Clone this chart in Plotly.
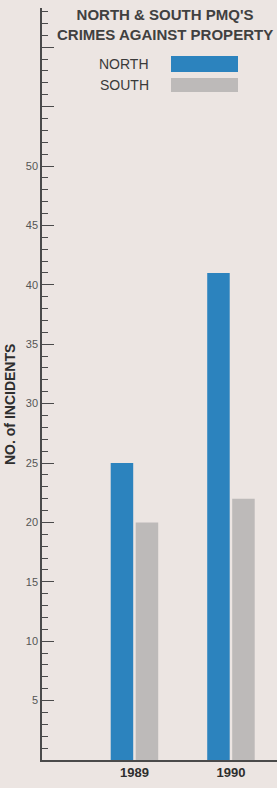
import plotly.graph_objects as go

years = ["1989", "1990"]
north = [25, 41]
south = [20, 22]
tick_vals = [5, 10, 15, 20, 25, 30, 35, 40, 45, 50, 55, 60]
tick_text = ["5", "10", "15", "20", "25", "30", "35", "40", "45", "50", "", ""]

BG = "#ece5e2"
BLUE = "#2c83be"
GREY = "#bdbab9"
INK = "#3c3c3c"
L, T, W, H = 42, 8, 235, 752

fig = go.Figure()
fig.add_trace(go.Bar(x=years, y=north, name="NORTH", marker=dict(color=BLUE, line=dict(width=0))))
fig.add_trace(go.Bar(x=years, y=south, name="SOUTH", marker=dict(color=GREY, line=dict(width=0))))

fig.update_layout(
    width=277, height=788,
    margin=dict(l=L, r=0, t=T, b=28, autoexpand=False),
    paper_bgcolor=BG, plot_bgcolor=BG,
    showlegend=False,
    barmode="group", bargap=0.482, bargroupgap=0.1,
    font=dict(family="Liberation Sans, Arial, sans-serif", color=INK),
)
fig.update_xaxes(
    type="category", range=[-0.958, 1.477], automargin=False,
    showline=True, linecolor="#4a4a4a", linewidth=1.5,
    ticks="", showgrid=False, zeroline=False,
    tickprefix="<b>", ticksuffix="</b>",
    tickfont=dict(size=13, color="#2e2e2e"),
)
fig.update_yaxes(
    range=[0, 63.3], automargin=False,
    showline=True, linecolor="#4a4a4a", linewidth=1.5,
    showgrid=False, zeroline=False,
    tickmode="array", tickvals=tick_vals, ticktext=tick_text,
    ticks="inside", ticklen=12, tickwidth=1.3, tickcolor="#4a4a4a",
    tickfont=dict(size=11, color="#555555"),
    minor=dict(tickmode="linear", tick0=0, dtick=1, ticks="inside", ticklen=6,
               tickwidth=1.2, tickcolor="#4a4a4a"),
)

def px_x(x):
    return (x - L) / W

def px_y(y):
    return 1 - (y - T) / H

# y axis title
fig.add_annotation(xref="paper", yref="paper", x=px_x(10), y=px_y(405), xanchor="center", yanchor="middle",
                   text="<b>NO. of INCIDENTS</b>", textangle=-90, showarrow=False,
                   font=dict(size=14, color="#2e2e2e"))

# title
fig.add_annotation(xref="paper", yref="paper", x=px_x(165), y=px_y(24), xanchor="center", yanchor="middle",
                   text="<b>NORTH &amp; SOUTH PMQ'S<br>CRIMES AGAINST PROPERTY</b>",
                   showarrow=False, font=dict(size=15, color="#404040"), align="center")

# legend (drawn manually)
fig.add_annotation(xref="paper", yref="paper", x=px_x(151), y=px_y(64), xanchor="right", yanchor="middle",
                   text="NORTH", showarrow=False, font=dict(size=14, color="#3a3a3a"))
fig.add_annotation(xref="paper", yref="paper", x=px_x(151), y=px_y(85), xanchor="right", yanchor="middle",
                   text="SOUTH", showarrow=False, font=dict(size=14, color="#3a3a3a"))
fig.add_shape(type="rect", xref="paper", yref="paper", x0=px_x(171), x1=px_x(238),
              y0=px_y(72), y1=px_y(56), fillcolor=BLUE, line=dict(width=0))
fig.add_shape(type="rect", xref="paper", yref="paper", x0=px_x(171), x1=px_x(238),
              y0=px_y(92), y1=px_y(78), fillcolor=GREY, line=dict(width=0))

fig.write_html(
    "out.html",
    config={"displayModeBar": False},
    post_script="document.body.style.margin='0';document.body.style.overflow='hidden';"
                "document.body.style.background='" + BG + "';",
)
